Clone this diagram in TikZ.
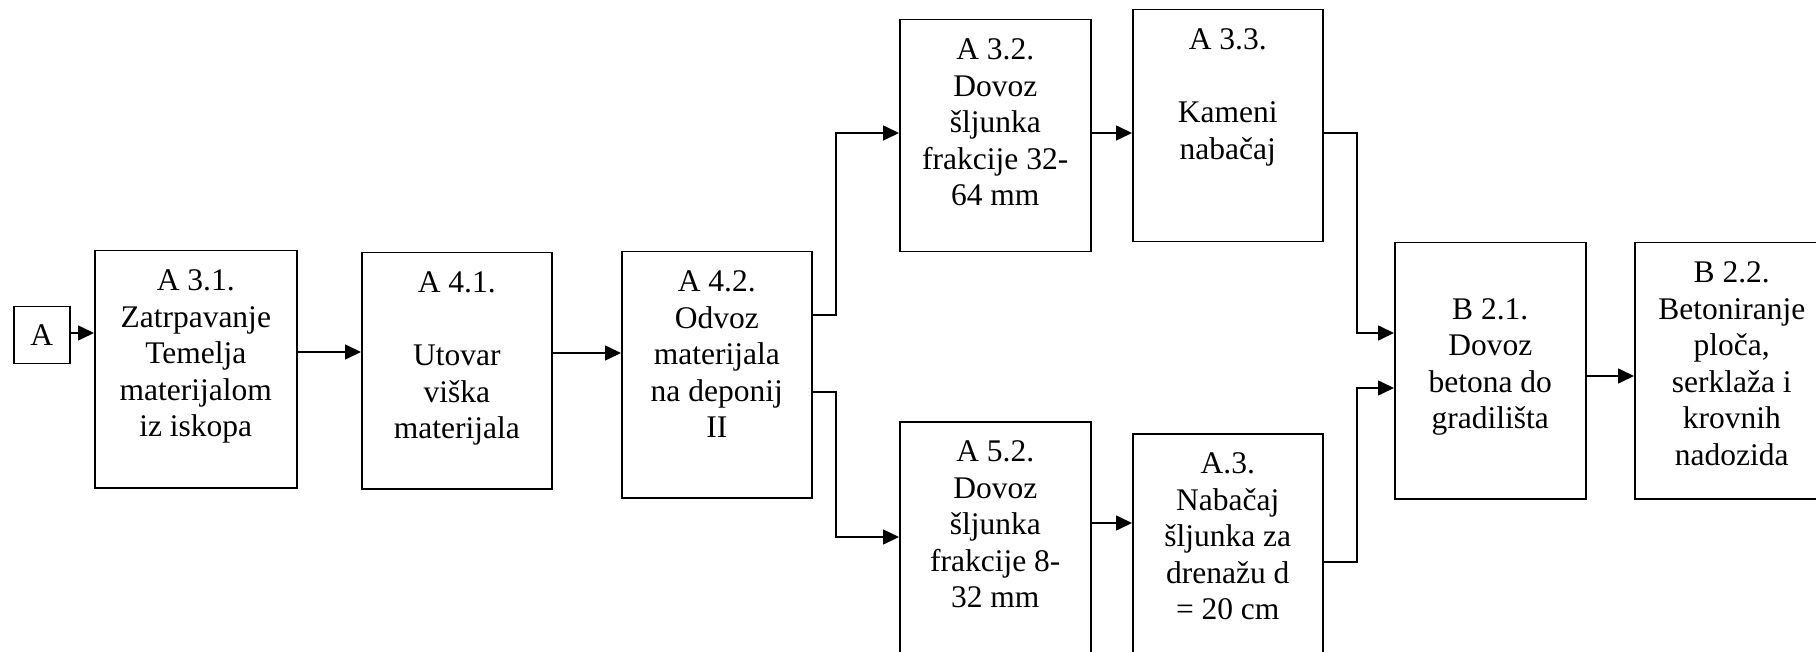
\documentclass[tikz,border=0pt]{standalone}
\usepackage{fontspec}
\setmainfont{Liberation Serif}
\usetikzlibrary{arrows.meta}
\newcommand{\bxt}[3]{\parbox[c][#2pt][t]{#1pt}{\centering\rule{0pt}{40pt}#3\par}}
\begin{document}
\begin{tikzpicture}[x=1pt,y=-1pt,
  box/.style={draw, line width=1.5pt, inner sep=0pt, anchor=north west,
              font=\fontsize{31.5}{36.5}\selectfont},
  conn/.style={line width=1.6pt, -{Triangle[length=16pt,width=15pt]}}]
\useasboundingbox (0,0) rectangle (1816,652);
\clip (0,0) rectangle (1816,652);
\node[box] (a) at (13,306) {\parbox[c][57pt][c]{56pt}{\centering A}};
\node[box] (a31) at (94,250) {\bxt{202}{237}{A 3.1.\\Zatrpavanje\\Temelja\\materijalom\\iz iskopa}};
\node[box] (a41) at (361,252) {\bxt{190}{236}{A 4.1.\\\mbox{}\\Utovar\\viška\\materijala}};
\node[box] (a42) at (621,251) {\bxt{190}{246}{A 4.2.\\Odvoz\\materijala\\na deponij\\II}};
\node[box] (a32) at (899,19) {\bxt{191}{232}{A 3.2.\\Dovoz\\šljunka\\frakcije 32-\\64 mm}};
\node[box] (a33) at (1132,9) {\bxt{190}{232}{A 3.3.\\\mbox{}\\Kameni\\nabačaj}};
\node[box] (a52) at (899,421) {\bxt{191}{250}{A 5.2.\\Dovoz\\šljunka\\frakcije 8-\\32 mm}};
\node[box] (a3) at (1132,433) {\bxt{190}{250}{A.3.\\Nabačaj\\šljunka za\\drenažu d\\= 20 cm}};
\node[box] (b21) at (1394,242) {\bxt{191}{256}{\mbox{}\\B 2.1.\\Dovoz\\betona do\\gradilišta}};
\node[box] (b22) at (1634,242) {\bxt{194}{256}{B 2.2.\\Betoniranje\\ploča,\\serklaža i\\krovnih\\nadozida}};

\draw[conn] (a.east |- 0,333) -- (a31.west |- 0,333);
\draw[conn] (a31.east |- 0,352) -- (a41.west |- 0,352);
\draw[conn] (a41.east |- 0,353) -- (a42.west |- 0,353);
\draw[conn] (a42.east |- 0,315) -- (836,315) |- (a32.west |- 0,133);
\draw[conn] (a42.east |- 0,392) -- (836,392) |- (a52.west |- 0,537);
\draw[conn] (a32.east |- 0,133) -- (a33.west |- 0,133);
\draw[conn] (a52.east |- 0,523) -- (a3.west |- 0,523);
\draw[conn] (a33.east |- 0,133) -- (1357,133) |- (b21.west |- 0,333);
\draw[conn] (a3.east |- 0,562) -- (1357,562) |- (b21.west |- 0,388);
\draw[conn] (b21.east |- 0,376) -- (b22.west |- 0,376);
\end{tikzpicture}
\end{document}
